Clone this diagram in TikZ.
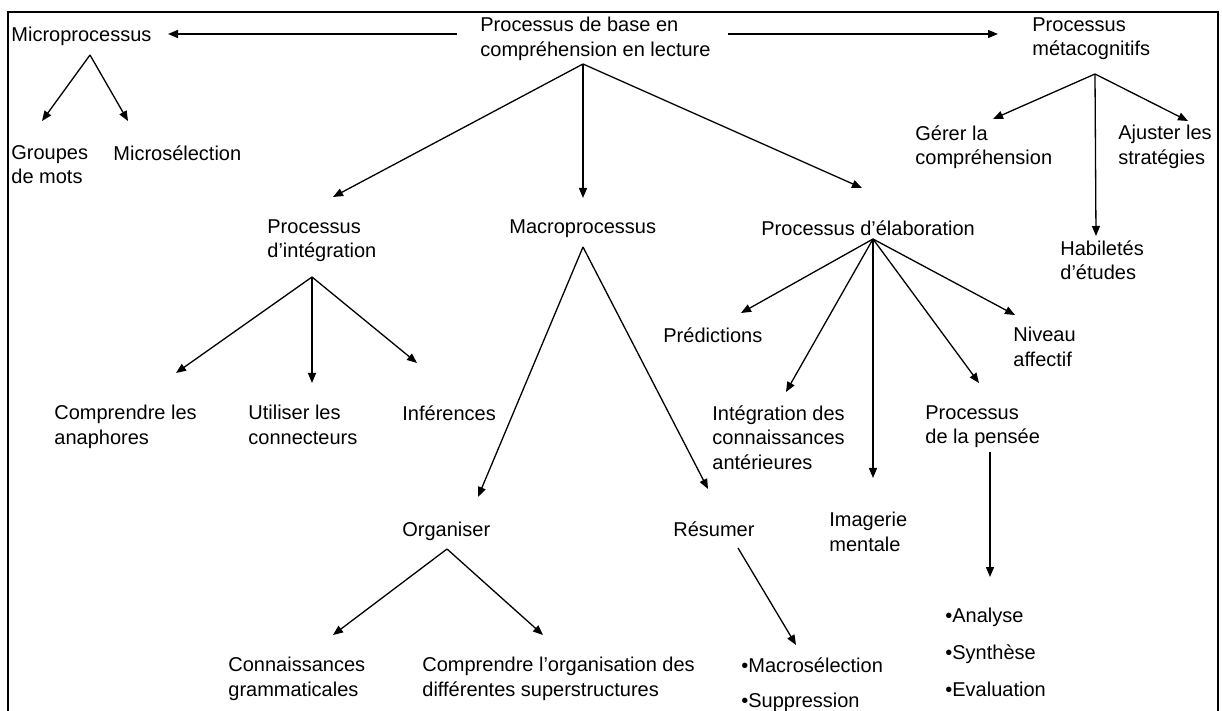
\documentclass[tikz,border=0pt]{standalone}
\usepackage{fontspec}
\setmainfont{Liberation Sans}
\usetikzlibrary{arrows.meta}
\tikzset{lbl/.style={anchor=north west,align=left,inner sep=0pt,
           font=\fontsize{10}{12.3}\selectfont},
         arr/.style={-{Triangle[length=5pt,width=4pt]},line width=0.65pt}}

\begin{document}
\begin{tikzpicture}[x=0.5pt,y=-0.5pt]
\useasboundingbox (0,0) rectangle (1222,711);
\draw[line width=1pt] (8,711)--(8,12)--(1218,12)--(1218,711);
% top row
\node[lbl] (base) at (480,17) {Processus de base en\\compréhension en lecture};
\node[lbl] (micro) at (11,27) {Microprocessus};
\node[lbl] (meta) at (1032,17) {Processus\\métacognitifs};
\node[lbl] (groupes) at (11,145) {Groupes\\de mots};
\node[lbl] (microsel) at (113,145) {Microsélection};
\node[lbl] (gerer) at (915,125) {Gérer la\\compréhension};
\node[lbl] (ajuster) at (1118,125) {Ajuster les\\stratégies};
\node[lbl] (habil) at (1060,240) {Habiletés\\d’études};
% second row
\node[lbl] (integ) at (267,219) {Processus\\d’intégration};
\node[lbl] (macro) at (509,219) {Macroprocessus};
\node[lbl] (elab) at (761,220) {Processus d’élaboration};
% under integration
\node[lbl] (anaph) at (54,405) {Comprendre les\\anaphores};
\node[lbl] (connect) at (248,405) {Utiliser les\\connecteurs};
\node[lbl] (infer) at (402,405) {Inférences};
% under macro
\node[lbl] (organ) at (402,522) {Organiser};
\node[lbl] (resum) at (673,521) {Résumer};
\node[lbl] (gramm) at (228,657) {Connaissances\\grammaticales};
\node[lbl] (superstr) at (422,657) {Comprendre l’organisation des\\différentes superstructures};
\node[lbl] (macrosel) at (741,657) {•Macrosélection\\[5.2pt]•Suppression};
% under elaboration
\node[lbl] (predic) at (663,327) {Prédictions};
\node[lbl] (niveau) at (1013,327) {Niveau\\affectif};
\node[lbl] (integant) at (712,405) {Intégration des\\connaissances\\antérieures};
\node[lbl] (imag) at (829,512) {Imagerie\\mentale};
\node[lbl] (pensee) at (925,405) {Processus\\de la pensée};
\node[lbl] (analyse) at (945,608) {•Analyse\\[6pt]•Synthèse\\[6pt]•Evaluation};

% fork points and arrow ends
\coordinate (bl) at (457,34);
\coordinate (br) at (728,34);
\coordinate (tmicro) at (168,34);
\coordinate (tmeta) at (998,34);
\coordinate (fmicro) at (90,55);
\coordinate (fbase) at (583,64);
\coordinate (fmeta) at (1095,74);
\coordinate (finteg) at (312,277);
\coordinate (fmacro) at (583,247);
\coordinate (felab) at (873,239);
\coordinate (forgan) at (447,549);
\coordinate (fresum) at (738,548);
\coordinate (fpensee) at (990,452);

\draw[arr] (bl)--(tmicro);
\draw[arr] (br)--(tmeta);
\draw[arr] (fmicro)--(42,121) coordinate (tgroupes);
\draw[arr] (fmicro)--(128,121) coordinate (tmicrosel);
\draw[arr] (fbase)--(333,197) coordinate (tinteg);
\draw[arr] (fbase)--(583,198) coordinate (tmacro);
\draw[arr] (fbase)--(862,188) coordinate (telab);
\draw[arr] (fmeta)--(993,119) coordinate (tgerer);
\draw[arr] (fmeta)--(1188,121) coordinate (tajuster);
\draw[arr] (fmeta)--(1096,236) coordinate (thabil);
\draw[arr] (finteg)--(176,373) coordinate (tanaph);
\draw[arr] (finteg)--(312,383) coordinate (tconnect);
\draw[arr] (finteg)--(417,363) coordinate (tinfer);
\draw[arr] (fmacro)--(478,497) coordinate (torgan);
\draw[arr] (fmacro)--(708,489) coordinate (tresum);
\draw[arr] (forgan)--(333,635) coordinate (tgramm);
\draw[arr] (forgan)--(543,635) coordinate (tsuperstr);
\draw[arr] (fresum)--(796,645) coordinate (tmacrosel);
\draw[arr] (felab)--(741,313) coordinate (tpredic);
\draw[arr] (felab)--(786,392) coordinate (tintegant);
\draw[arr] (felab)--(873,478) coordinate (timag);
\draw[arr] (felab)--(979,383) coordinate (tpensee);
\draw[arr] (felab)--(1015,315) coordinate (tniveau);
\draw[arr] (fpensee)--(990,577) coordinate (tanalyse);
\end{tikzpicture}
\end{document}
